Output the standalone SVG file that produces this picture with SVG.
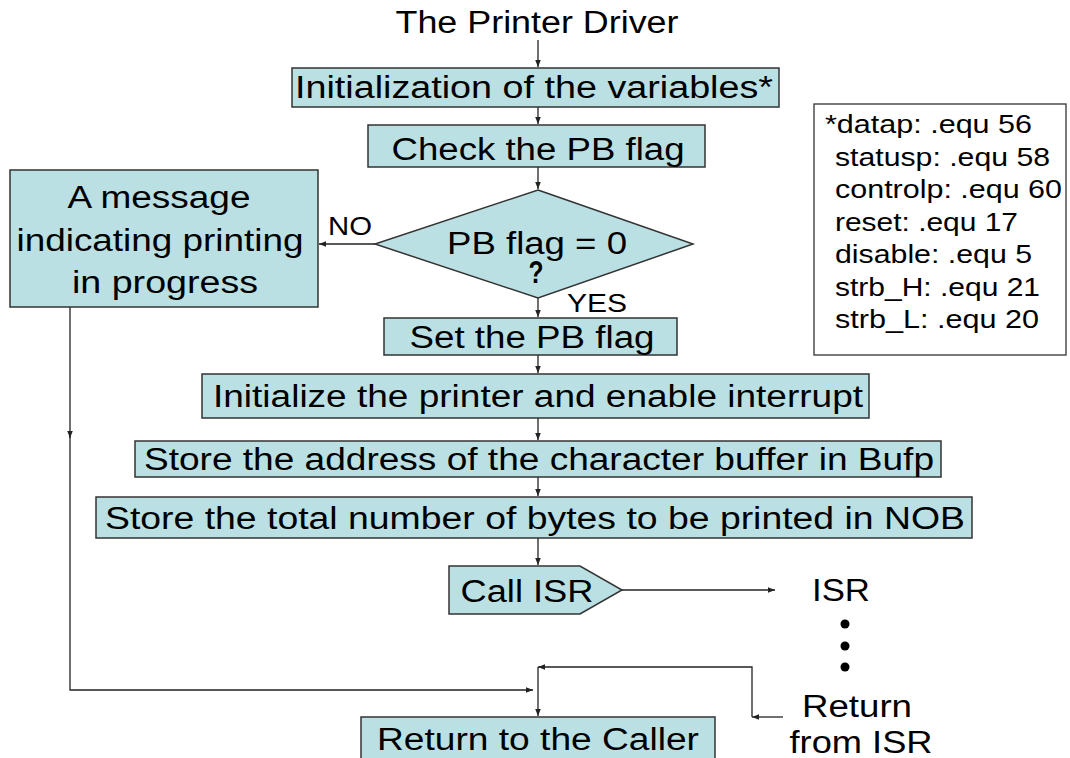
<svg xmlns="http://www.w3.org/2000/svg" width="1070" height="758" viewBox="0 0 1070 758">
<defs>
<style>
.box{fill:#BBE0E3;stroke:#333;stroke-width:1.5}
.t{font-family:"Liberation Sans",Arial,sans-serif;font-size:31px;fill:#000;text-anchor:middle}
.s{font-family:"Liberation Sans",Arial,sans-serif;font-size:26px;fill:#000}
.c{fill:none;stroke:#222;stroke-width:1.3}
</style>
<marker id="ah" viewBox="0 0 10 10" refX="10" refY="5" markerWidth="8" markerHeight="7" orient="auto" markerUnits="userSpaceOnUse"><path d="M0,1 L10,5 L0,9 z" fill="#222"/></marker>
</defs>
<rect width="1070" height="758" fill="#fff"/>
<g id="title"><text class="t" x="537" y="33" font-size="29" textLength="283" lengthAdjust="spacingAndGlyphs">The Printer Driver</text></g>
<g id="connectors">
<line class="c" x1="538" y1="40" x2="538" y2="67" marker-end="url(#ah)"/>
<line class="c" x1="538" y1="107" x2="538" y2="124" marker-end="url(#ah)"/>
<line class="c" x1="538" y1="167" x2="538" y2="189" marker-end="url(#ah)"/>
<line class="c" x1="375" y1="244" x2="319" y2="244" marker-end="url(#ah)"/>
<line class="c" x1="538" y1="298" x2="538" y2="317" marker-end="url(#ah)"/>
<line class="c" x1="538" y1="355" x2="538" y2="373" marker-end="url(#ah)"/>
<line class="c" x1="538" y1="418" x2="538" y2="440" marker-end="url(#ah)"/>
<line class="c" x1="538" y1="477" x2="538" y2="496" marker-end="url(#ah)"/>
<line class="c" x1="538" y1="538" x2="538" y2="565" marker-end="url(#ah)"/>
<line class="c" x1="622" y1="590" x2="775" y2="590" marker-end="url(#ah)"/>
<line class="c" x1="70" y1="307" x2="70" y2="438" marker-end="url(#ah)"/>
<polyline class="c" points="70,434 70,690 533,690" marker-end="url(#ah)"/>
<line class="c" x1="783" y1="717" x2="752" y2="717" marker-end="url(#ah)"/>
<polyline class="c" points="752,717 752,667 538,667" marker-end="url(#ah)"/>
<line class="c" x1="538" y1="667" x2="538" y2="716" marker-end="url(#ah)"/>
<text class="s" x="328" y="235" font-size="23" textLength="44" lengthAdjust="spacingAndGlyphs">NO</text>
<text class="s" x="567" y="312" font-size="24" textLength="60" lengthAdjust="spacingAndGlyphs">YES</text>
</g>
<g id="n1"><rect class="box" x="292" y="68" width="487" height="39"/><text class="t" x="534" y="98" textLength="478" lengthAdjust="spacingAndGlyphs">Initialization of the variables*</text></g>
<g id="n2"><rect class="box" x="368" y="125" width="337" height="42"/><text class="t" x="538" y="160" textLength="293" lengthAdjust="spacingAndGlyphs">Check the PB flag</text></g>
<g id="n3"><polygon class="box" points="538,190 693,244 538,298 375,244"/><text class="t" x="537" y="254" textLength="180" lengthAdjust="spacingAndGlyphs">PB flag = 0</text><text class="t" x="536" y="283" font-size="18" font-weight="bold" textLength="15" lengthAdjust="spacingAndGlyphs">?</text></g>
<g id="n4"><rect class="box" x="10" y="170" width="308" height="137"/><text class="t" x="159" y="208" textLength="183" lengthAdjust="spacingAndGlyphs">A message</text><text class="t" x="160" y="251" textLength="287" lengthAdjust="spacingAndGlyphs">indicating printing</text><text class="t" x="165" y="293" textLength="186" lengthAdjust="spacingAndGlyphs">in progress</text></g>
<g id="n5"><rect class="box" x="384" y="318" width="293" height="37"/><text class="t" x="532" y="348" textLength="245" lengthAdjust="spacingAndGlyphs">Set the PB flag</text></g>
<g id="n6"><rect class="box" x="202" y="374" width="667" height="44"/><text class="t" x="538" y="407" textLength="650" lengthAdjust="spacingAndGlyphs">Initialize the printer and enable interrupt</text></g>
<g id="n7"><rect class="box" x="135" y="441" width="806" height="36"/><text class="t" x="539" y="470" textLength="790" lengthAdjust="spacingAndGlyphs">Store the address of the character buffer in Bufp</text></g>
<g id="n8"><rect class="box" x="96" y="497" width="876" height="41"/><text class="t" x="535" y="529" textLength="860" lengthAdjust="spacingAndGlyphs">Store the total number of bytes to be printed in NOB</text></g>
<g id="n9"><polygon class="box" points="449,566 580,566 622,590 580,614 449,614"/><text class="t" x="527" y="602" textLength="133" lengthAdjust="spacingAndGlyphs">Call ISR</text></g>
<g id="n10"><text class="t" x="841" y="601" textLength="58" lengthAdjust="spacingAndGlyphs">ISR</text><circle cx="845" cy="624" r="4.5"/><circle cx="845" cy="646" r="4.5"/><circle cx="845" cy="667" r="4.5"/></g>
<g id="n11"><text class="t" x="857" y="717" textLength="110" lengthAdjust="spacingAndGlyphs">Return</text><text class="t" x="861" y="753" textLength="143" lengthAdjust="spacingAndGlyphs">from ISR</text></g>
<g id="n12"><rect class="box" x="361" y="717" width="354" height="45"/><text class="t" x="538" y="750" textLength="322" lengthAdjust="spacingAndGlyphs">Return to the Caller</text></g>
<g id="legend"><rect x="814" y="104" width="252" height="251" fill="#fff" stroke="#333" stroke-width="1.3"/>
<text class="s" x="825" y="133" textLength="207" lengthAdjust="spacingAndGlyphs">*datap: .equ 56</text>
<text class="s" x="835" y="166" textLength="215" lengthAdjust="spacingAndGlyphs">statusp: .equ 58</text>
<text class="s" x="835" y="198" textLength="227" lengthAdjust="spacingAndGlyphs">controlp: .equ 60</text>
<text class="s" x="835" y="231" textLength="183" lengthAdjust="spacingAndGlyphs">reset: .equ 17</text>
<text class="s" x="835" y="263" textLength="197" lengthAdjust="spacingAndGlyphs">disable: .equ 5</text>
<text class="s" x="835" y="296" textLength="205" lengthAdjust="spacingAndGlyphs">strb_H: .equ 21</text>
<text class="s" x="835" y="328" textLength="204" lengthAdjust="spacingAndGlyphs">strb_L: .equ 20</text>
</g>
</svg>
